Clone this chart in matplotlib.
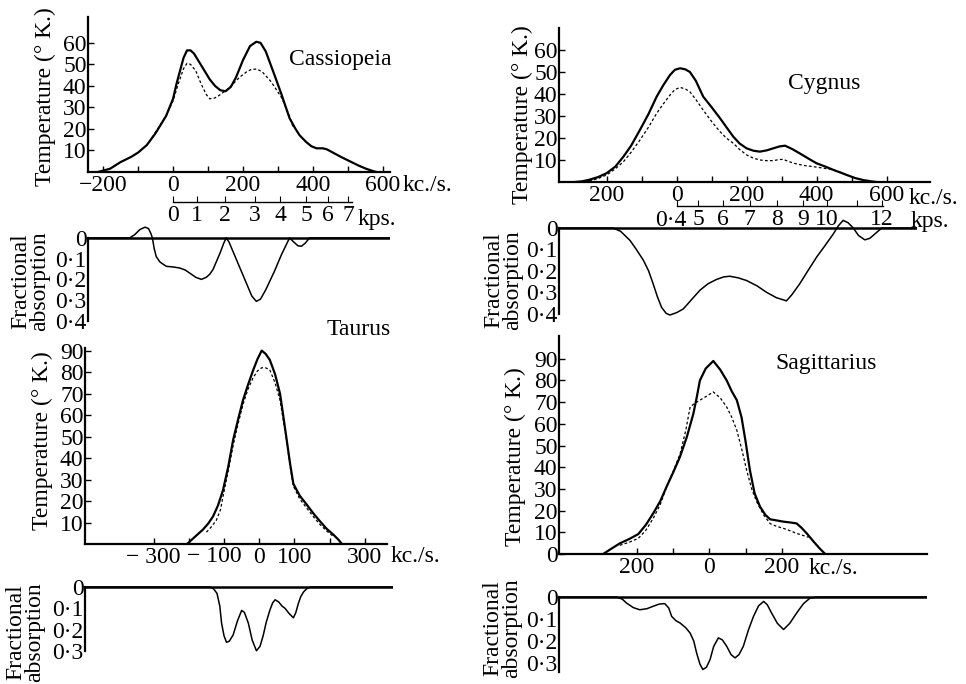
import numpy as np
import matplotlib
matplotlib.use('Agg')
import matplotlib.pyplot as plt

plt.rcParams['font.family'] = ['Liberation Serif', 'DejaVu Serif']
plt.rcParams['font.size'] = 17

# ---- Cassiopeia ----
cas_v = [-215, -180, -150, -120, -100, -75, -50, -35, -20, -10, 0, 10, 20, 30, 40, 50,
         60, 75, 90, 105, 120, 135, 150, 165, 180, 200, 220, 238, 250, 265, 290, 310,
         333, 350, 362, 380, 395, 410, 428, 440, 457, 480, 505, 530, 552, 570, 581]
cas_T = [0, 1.5, 4.6, 7, 9, 12.5, 18, 22, 26, 30, 34, 41, 47, 53, 56.5, 56.5,
         55, 51, 47, 43, 40, 38, 37.5, 39.5, 44, 52, 58.5, 60.5, 60, 56, 45, 36,
         25, 20, 17, 14, 12, 11, 11, 10.5, 9, 7, 5, 3, 1.5, 0.5, 0]
cas_vd = [-60, -40, -20, 0, 15, 30, 40, 50, 65, 80, 95, 105, 118, 130, 160, 190,
          210, 224, 240, 255, 280, 310, 330, 343]
cas_Td = [16, 21, 26, 33, 41, 48, 50.5, 50, 47, 41, 36, 34, 34.3, 35.4, 39, 44,
          46.5, 47.7, 47.8, 46.5, 42, 34.6, 27, 21]
cas_av = [-243, -124, -110, -95, -80, -70, -63, -59, -54, -48, -38, -30, -19, 0, 19, 35,
          48, 65, 81, 95, 105, 114, 125, 135, 145, 152, 160, 180, 210, 225, 238, 250,
          265, 290, 310, 333, 345, 357, 367, 378, 390, 620]
cas_a = [0, 0, -0.015, -0.04, -0.052, -0.045, -0.02, 0, 0.05, 0.09, 0.115, 0.125, 0.137, 0.14, 0.145, 0.155,
         0.17, 0.19, 0.2, 0.19, 0.175, 0.153, 0.11, 0.07, 0.025, 0, 0.02, 0.1, 0.22, 0.28, 0.306, 0.295,
         0.25, 0.16, 0.08, 0, 0.02, 0.038, 0.04, 0.025, 0, 0]
cas_kps_pos = [0, 69, 149, 234, 306, 381, 443, 500]
cas_kps_lab = ['0', '1', '2', '3', '4', '5', '6', '7']

# ---- Cygnus ----
cyg_v = [-290, -270, -250, -225, -200, -175, -152, -130, -105, -80, -57, -38, -19, -5,
         10, 25, 38, 55, 76, 100, 124, 142, 162, 180, 200, 220, 238, 258, 276, 295,
         310, 330, 352, 375, 400, 425, 448, 470, 486, 510, 533, 555, 571]
cyg_T = [0, 0.3, 1, 2.2, 4, 7, 11.5, 16.5, 23.6, 31, 38.8, 44, 48.6, 51,
         51.7, 51.2, 50, 46, 38.8, 34, 29, 25, 20.6, 17.5, 15.3, 14.2, 13.8, 14.4, 15.3, 16.2,
         16.5, 15, 13, 10.8, 8.5, 7, 5.5, 4.2, 3.2, 1.8, 0.9, 0.3, 0]
cyg_vd = [-250, -225, -200, -175, -152, -130, -105, -80, -57, -38, -19, -5, 10, 25,
          38, 55, 76, 100, 124, 142, 162, 180, 200, 220, 238, 257, 276, 293, 305, 320,
          343, 365, 390, 415, 438, 458, 476]
cyg_Td = [0.5, 1.5, 3.2, 6, 9.2, 13.5, 19, 25, 31.2, 35.5, 39.5, 42, 43, 42.3,
          41, 37.5, 32.7, 27.5, 22.9, 20, 17.6, 14.8, 12.3, 10.8, 10, 9.7, 9.7, 10.2, 10.3, 9.3,
          8.2, 7.5, 7, 6.4, 5.8, 5, 3.9]
cyg_av = [-336, -181, -160, -133, -115, -95, -80, -67, -55, -43, -30, -19, 0, 19, 45, 67,
          90, 114, 135, 152, 175, 200, 230, 257, 285, 314, 330, 352, 375, 400, 425, 448,
          462, 476, 490, 505, 520, 538, 552, 567, 586, 687]
cyg_a = [0, 0, 0.015, 0.058, 0.1, 0.15, 0.2, 0.26, 0.32, 0.37, 0.398, 0.406, 0.395, 0.378, 0.33, 0.29,
         0.26, 0.24, 0.228, 0.225, 0.232, 0.245, 0.27, 0.3, 0.325, 0.34, 0.31, 0.26, 0.2, 0.136, 0.08, 0.027,
         -0.01, -0.036, -0.025, 0, 0.035, 0.055, 0.048, 0.027, 0, 0]
cyg_kps_pos = [0, 61, 133, 209, 286, 362, 429, 515, 586]
cyg_kps_lab = ['', '5', '6', '7', '8', '9', '10', '', '12']

# ---- Taurus ----
tau_v = [-205, -185, -160, -145, -131, -117, -103, -88, -74, -60, -46, -32, -17, -5,
         7, 18, 30, 45, 59, 68, 78, 88, 97, 115, 135, 155, 173, 192, 211, 225, 235]
tau_T = [0, 3, 6.7, 9.5, 12.9, 18, 25, 36, 48.5, 58, 67, 74, 81, 86,
         90, 88.5, 85.7, 79, 70, 60, 48.5, 37, 28, 22.5, 18.3, 14, 10.5, 7, 4.3, 2, 0]
tau_vd = [-150, -136, -122, -110, -103, -88, -74, -60, -46, -32, -17, -5, 7, 18,
          30, 45, 59, 68, 78, 88, 97, 115, 135, 155, 173, 192, 211]
tau_Td = [5.5, 8, 11, 16, 22, 34, 46, 56, 65, 72, 77.5, 80.5, 82, 82,
          81, 75, 67, 58, 48, 36, 27, 21, 16.7, 12.5, 9, 6, 3.5]
tau_av = [-495, -141, -130, -120, -112, -107, -100, -93, -85, -74, -62, -50, -42, -31, -20, -8,
          2, 11, 20, 30, 38, 45, 55, 65, 73, 85, 97, 104, 111, 118, 126, 135, 145, 380]
tau_a = [0, 0, 0.008, 0.03, 0.09, 0.17, 0.23, 0.26, 0.255, 0.225, 0.16, 0.11, 0.12, 0.17, 0.25, 0.3,
         0.28, 0.23, 0.165, 0.11, 0.075, 0.06, 0.07, 0.09, 0.1, 0.125, 0.145, 0.12, 0.078, 0.045, 0.023, 0.008, 0, 0]

# ---- Sagittarius ----
sag_v = [-293, -270, -247, -220, -196, -175, -155, -135, -118, -100, -81, -62, -44, -35,
         -26, -10, 11, 30, 48, 62, 76, 89, 100, 112, 125, 140, 155, 168, 185, 205,
         225, 241, 255, 269, 288, 305, 320]
sag_T = [0, 2.5, 4.9, 7, 9.2, 13.5, 18.7, 24.5, 31, 37.5, 44.8, 54, 64.7, 72,
         80, 85.5, 89, 85, 80, 75, 70.9, 63, 52, 38.7, 28, 21.8, 18, 16, 15.5, 14.9,
         14.5, 14.1, 12, 9.5, 5.7, 2.5, 0]
sag_vd = [-247, -220, -196, -175, -155, -135, -118, -100, -81, -65, -53, -40, -26, -10,
          11, 30, 48, 62, 76, 90, 103, 117, 131, 150, 168, 185, 205, 225, 241, 258, 274]
sag_Td = [4, 5.5, 7.2, 11, 16.4, 23, 31, 38, 46, 57, 67.8, 69.5, 70.9, 72.5,
          74.7, 72, 67.8, 63, 57, 48, 38.7, 30, 24, 18, 14, 12.8, 11.8, 10.6, 9.5, 8.6, 7.7]
sag_av = [-415, -256, -240, -229, -210, -192, -172, -155, -138, -123, -112, -104, -92, -81, -65, -53,
          -43, -35, -26, -18, -8, 2, 12, 25, 36, 48, 60, 71, 82, 94, 108, 122,
          136, 150, 160, 172, 188, 205, 222, 241, 260, 278, 297, 601]
sag_a = [0, 0, 0.01, 0.027, 0.048, 0.058, 0.053, 0.042, 0.032, 0.03, 0.05, 0.088, 0.108, 0.118, 0.14, 0.164,
         0.2, 0.255, 0.305, 0.33, 0.32, 0.285, 0.225, 0.186, 0.195, 0.224, 0.262, 0.277, 0.262, 0.224, 0.15, 0.088,
         0.04, 0.02, 0.035, 0.073, 0.12, 0.148, 0.12, 0.073, 0.03, 0.005, 0, 0]

W, H = 966, 684
fig = plt.figure(figsize=(W / 100, H / 100), dpi=100)


def box(l, t, r, b):
    return [l / W, 1 - b / H, (r - l) / W, (b - t) / H]


def ftext(px, py, s, **kw):
    fig.text(px / W, 1 - py / H, s, **kw)


def temp_panel(rect, xlim, ylim, xticks, xlabels, yticks):
    ax = fig.add_axes(box(*rect))
    ax.patch.set_visible(False)
    ax.set_xlim(*xlim)
    ax.set_ylim(*ylim)
    for s in ('top', 'right'):
        ax.spines[s].set_visible(False)
    for s in ('left', 'bottom'):
        ax.spines[s].set_linewidth(1.6)
    ax.set_xticks(xticks)
    ax.set_xticklabels(xlabels)
    ax.set_yticks(yticks)
    ax.set_yticklabels([str(t) for t in yticks])
    ax.tick_params(direction='in', length=4, width=1, pad=2)
    ax.tick_params(axis='y', pad=1)
    return ax


def abs_panel(rect, xlim, ylim, yticks, ylabels, ybound):
    ax = fig.add_axes(box(*rect))
    ax.patch.set_visible(False)
    ax.set_xlim(*xlim)
    ax.set_ylim(*ylim)
    for s in ('top', 'right', 'bottom'):
        ax.spines[s].set_visible(False)
    ax.spines['left'].set_linewidth(1.6)
    ax.spines['left'].set_bounds(0, ybound)
    ax.axhline(0, color='k', lw=1.8)
    ax.set_xticks([])
    ax.set_yticks(yticks)
    ax.set_yticklabels(ylabels)
    ax.tick_params(direction='in', length=0, pad=1)
    return ax


def kps_axis(rect, xlim, pos, labels, bound):
    ax = fig.add_axes(box(*rect))
    ax.set_xlim(*xlim)
    ax.patch.set_visible(False)
    for s in ('top', 'right', 'left'):
        ax.spines[s].set_visible(False)
    ax.spines['bottom'].set_linewidth(1.0)
    ax.spines['bottom'].set_bounds(*bound)
    ax.set_yticks([])
    ax.set_xticks(pos)
    ax.set_xticklabels(labels)
    ax.tick_params(direction='in', length=4, width=0.8, pad=2)
    return ax


sol = dict(color='k', lw=1.6)
dsh = dict(color='k', lw=0.9, dashes=(2.2, 1.8))
thin = dict(color='k', lw=1.1)
dots = ['0', '0\u00b71', '0\u00b72', '0\u00b73', '0\u00b74']
lab_kw = dict(rotation=90, ha='center', va='center')

# Cassiopeia
ax = temp_panel((88, 17, 390, 172), (-243, 620), (0, 72),
                list(range(-200, 700, 100)),
                ['\u2212200', '', '0', '', '200', '', '400', '', '600'],
                [10, 20, 30, 40, 50, 60])
ax.plot(cas_v, cas_T, **sol)
ax.plot(cas_vd, cas_Td, **dsh)
kps_axis((88, 201, 390, 202), (-243, 620), cas_kps_pos, cas_kps_lab, (0, 510))
ax = abs_panel((88, 223, 390, 325), (-243, 620), (0.42, -0.072),
               [0, 0.1, 0.2, 0.3, 0.4], dots, 0.4)
ax.plot(cas_av, cas_a, **thin)
ftext(340, 60, 'Cassiopeia', ha='center', va='center')
ftext(403, 186, 'kc./s.', ha='left', va='center')
ftext(358, 219, 'kps.', ha='left', va='center')
ftext(45, 97, 'Temperature (\u00b0 K.)', **lab_kw)
ftext(30, 281, 'Fractional\nabsorption', linespacing=0.85, **lab_kw)

# Cygnus
ax = temp_panel((559, 28, 930, 182), (-336, 724), (0, 70),
                list(range(-200, 700, 100)),
                ['200', '', '0', '', '200', '', '400', '', '600'],
                [10, 20, 30, 40, 50, 60])
ax.plot(cyg_v, cyg_T, **sol)
ax.plot(cyg_vd, cyg_Td, **dsh)
kps_axis((559, 205, 930, 206), (-336, 724), cyg_kps_pos, cyg_kps_lab, (0, 590))
ftext(686, 220, '0\u00b74', ha='right', va='center')
ax = abs_panel((559, 215, 917, 318), (-336, 687), (0.42, -0.061),
               [0, 0.1, 0.2, 0.3, 0.4], dots, 0.4)
ax.plot(cyg_av, cyg_a, **thin)
ftext(824, 83, 'Cygnus', ha='center', va='center')
ftext(909, 198, 'kc./s.', ha='left', va='center')
ftext(911, 222, 'kps.', ha='left', va='center')
ftext(522, 115, 'Temperature (\u00b0 K.)', **lab_kw)
ftext(503, 280, 'Fractional\nabsorption', linespacing=0.85, **lab_kw)

# Taurus
ax = temp_panel((85, 348, 387, 544), (-495, 363), (0, 91.2),
                list(range(-300, 400, 100)),
                ['\u2212 300', '', '', '0', '100', '', '300'],
                [10, 20, 30, 40, 50, 60, 70, 80, 90])
ax.plot(tau_v, tau_T, **sol)
ax.plot(tau_vd, tau_Td, **dsh)
ax = abs_panel((85, 580, 393, 655), (-495, 380), (0.32, -0.033),
               [0, 0.1, 0.2, 0.3], dots[:4], 0.3)
ax.plot(tau_av, tau_a, **thin)
ftext(359, 330, 'Taurus', ha='center', va='center')
ftext(214, 557, '\u2212 100', ha='center', va='center')
ftext(391, 557, 'kc./s.', ha='left', va='center')
ftext(42, 441, 'Temperature (\u00b0 K.)', **lab_kw)
ftext(25, 632, 'Fractional\nabsorption', linespacing=0.85, **lab_kw)

# Sagittarius
ax = temp_panel((559, 336, 927, 554), (-415, 601), (0, 100.5),
                list(range(-200, 300, 100)),
                ['200', '', '0', '', '200'],
                [0, 10, 20, 30, 40, 50, 60, 70, 80, 90])
ax.plot(sag_v, sag_T, **sol)
ax.plot(sag_vd, sag_Td, **dsh)
ax = abs_panel((559, 590, 927, 675), (-415, 601), (0.355, -0.032),
               [0, 0.1, 0.2, 0.3], dots[:4], 0.34)
ax.plot(sag_av, sag_a, **thin)
ftext(826, 363, 'Sagittarius', ha='center', va='center')
ftext(809, 568, 'kc./s.', ha='left', va='center')
ftext(515, 457, 'Temperature (\u00b0 K.)', **lab_kw)
ftext(502, 628, 'Fractional\nabsorption', linespacing=0.85, **lab_kw)

fig.savefig('out.png', dpi=100)
